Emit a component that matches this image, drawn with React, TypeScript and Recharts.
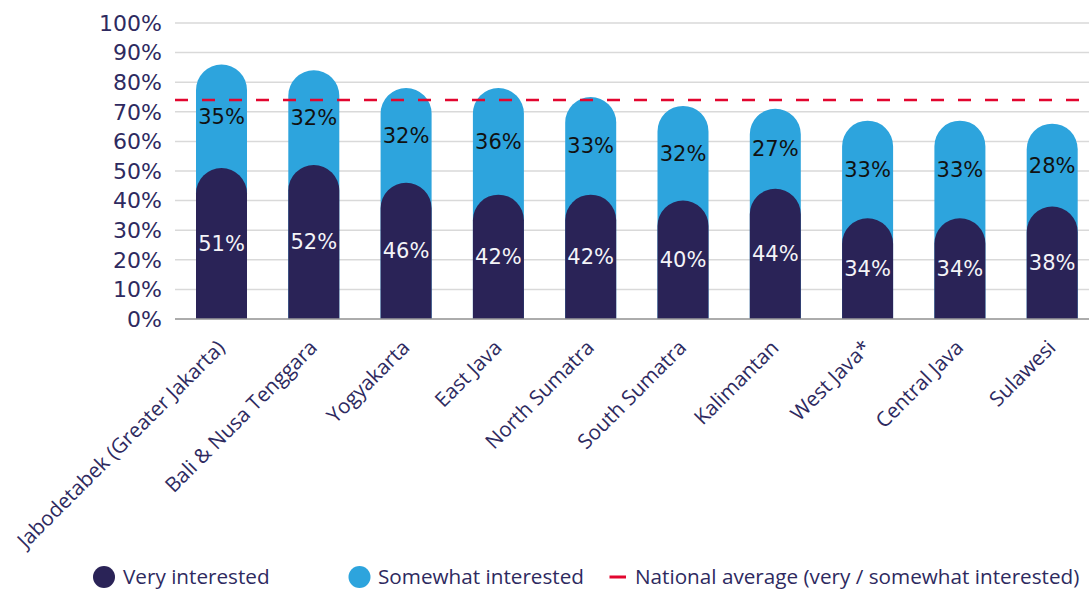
import React from 'react';
import { BarChart, Bar, XAxis, YAxis, CartesianGrid, ReferenceLine, LabelList } from 'recharts';

const regions = [
  'Jabodetabek (Greater Jakarta)',
  'Bali & Nusa Tenggara',
  'Yogyakarta',
  'East Java',
  'North Sumatra',
  'South Sumatra',
  'Kalimantan',
  'West Java*',
  'Central Java',
  'Sulawesi',
];
const veryInterested = [51, 52, 46, 42, 42, 40, 44, 34, 34, 38];
const somewhatInterested = [35, 32, 32, 36, 33, 32, 27, 33, 33, 28];
const nationalAverage = 74;
const yTicks = [0, 10, 20, 30, 40, 50, 60, 70, 80, 90, 100];
const legendLabels = ['Very interested', 'Somewhat interested', 'National average (very / somewhat interested)'];

const DARK = '#2A2357';
const LIGHT = '#2DA4DD';
const RED = '#E2062F';
const TEXT = '#2E2A60';

const data = regions.map((region, i) => ({
  region,
  very: veryInterested[i],
  somewhat: somewhatInterested[i],
  total: veryInterested[i] + somewhatInterested[i],
}));

const pct = (v: any) => `${v}%`;

const CategoryTick = (props: any) => {
  const { x, y, payload } = props;
  return (
    <g transform={`translate(${x + 5},${y + 22})`}>
      <text
        x={0}
        y={0}
        textAnchor="end"
        transform="rotate(-45)"
        fontFamily="Open Sans"
        fontSize={20.6}
        fill={TEXT}
      >
        {payload.value}
      </text>
    </g>
  );
};

export default function App() {
  return (
    <div
      style={{
        position: 'absolute',
        left: 0,
        top: 0,
        width: 1089,
        height: 589,
        overflow: 'hidden',
        background: '#fff',
      }}
    >
      <BarChart
        width={1100}
        height={589}
        data={data}
        margin={{ top: 23, right: 2, left: 0, bottom: 0 }}
      >
        <CartesianGrid horizontal vertical={false} stroke="#d9d9d9" strokeWidth={1.5} />
        <XAxis
          dataKey="region"
          height={270}
          interval={0}
          tickLine={false}
          axisLine={{ stroke: '#9a9a9a', strokeWidth: 1.5 }}
          tick={<CategoryTick />}
        />
        <XAxis xAxisId="bg" dataKey="region" hide />
        <YAxis
          width={175}
          domain={[0, 100]}
          ticks={yTicks}
          interval={0}
          tickFormatter={pct}
          tickLine={false}
          axisLine={false}
          tickMargin={7}
          tick={{ fontFamily: 'DejaVu Sans', fontSize: 22, fill: TEXT }}
        />
        <Bar
          xAxisId="bg"
          dataKey="total"
          fill={LIGHT}
          barSize={51}
          radius={[25.5, 25.5, 0, 0]}
          isAnimationActive={false}
        />
        <Bar
          dataKey="very"
          stackId="a"
          fill={DARK}
          barSize={51}
          radius={[25.5, 25.5, 0, 0]}
          isAnimationActive={false}
        >
          <LabelList
            dataKey="very"
            position="center"
            formatter={pct}
            fill="#f4f4f8"
            fontFamily="DejaVu Sans"
            fontSize={21}
          />
        </Bar>
        <Bar
          dataKey="somewhat"
          stackId="a"
          fill="transparent"
          barSize={51}
          isAnimationActive={false}
        >
          <LabelList
            dataKey="somewhat"
            position="center"
            formatter={pct}
            fill="#111111"
            fontFamily="DejaVu Sans"
            fontSize={21}
          />
        </Bar>
        <ReferenceLine
          y={nationalAverage}
          stroke={RED}
          strokeWidth={2.5}
          strokeDasharray="13 14"
        />
      </BarChart>
      <svg
        width={1089}
        height={40}
        style={{ position: 'absolute', left: 0, top: 557 }}
      >
        <circle cx={104} cy={20} r={11} fill={DARK} />
        <text x={123} y={26.5} fontFamily="Open Sans" fontSize={20.7} fill={TEXT}>
          {legendLabels[0]}
        </text>
        <circle cx={359.5} cy={20} r={11} fill={LIGHT} />
        <text x={378} y={26.5} fontFamily="Open Sans" fontSize={20.7} fill={TEXT}>
          {legendLabels[1]}
        </text>
        <rect x={609.5} y={18.5} width={16.5} height={3} fill={RED} />
        <text x={635} y={26.5} fontFamily="Open Sans" fontSize={20.7} fill={TEXT}>
          {legendLabels[2]}
        </text>
      </svg>
    </div>
  );
}
